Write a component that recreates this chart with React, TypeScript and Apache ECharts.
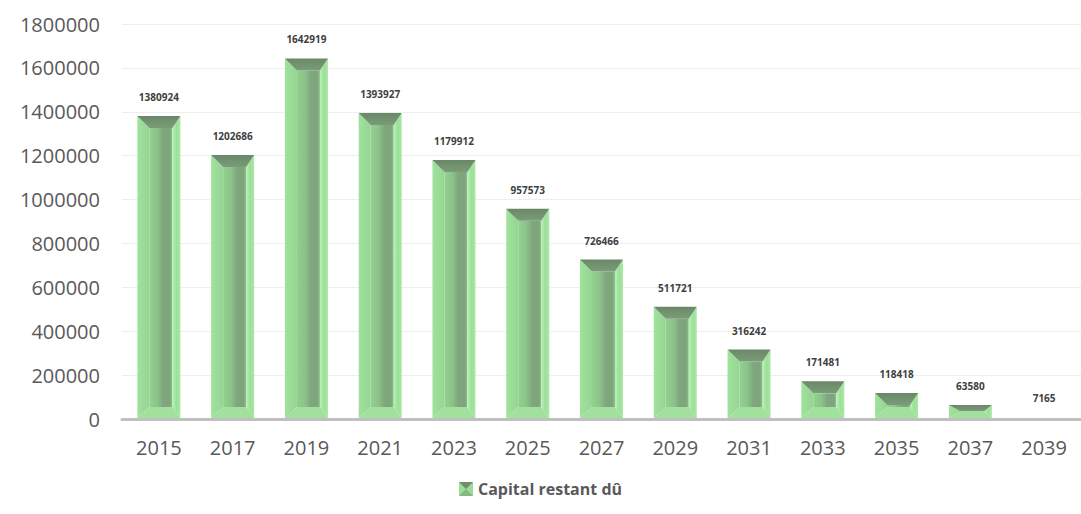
import React, { useEffect, useRef } from "react";
import * as echarts from "echarts";

const years = ["2015", "2017", "2019", "2021", "2023", "2025", "2027", "2029", "2031", "2033", "2035", "2037", "2039"];
const capital = [1380924, 1202686, 1642919, 1393927, 1179912, 957573, 726466, 511721, 316242, 171481, 118418, 63580, 7165];
const seriesName = "Capital restant dû";

const iconSvg =
  '<svg xmlns="http://www.w3.org/2000/svg" width="14" height="14" viewBox="0 0 14 14">' +
  '<rect x="0" y="0" width="14" height="14" fill="#9bdc98"/>' +
  '<polygon points="0,0 14,0 7,7" fill="#6e8e6c"/>' +
  '<polygon points="0,14 14,14 7,7" fill="#86b684"/>' +
  "</svg>";
const legendIcon = "image://data:image/svg+xml;charset=utf-8," + encodeURIComponent(iconSvg);

export default function App() {
  const ref = useRef<HTMLDivElement>(null);
  useEffect(() => {
    document.body.style.margin = "0";
    const chart = echarts.init(ref.current!, undefined, { renderer: "svg" });
    const data = capital.map((v, i) => [i, v]);
    chart.setOption({
      animation: false,
      backgroundColor: "#ffffff",
      grid: { left: 122, top: 24, width: 972, height: 395 },
      legend: {
        show: true,
        bottom: 12,
        left: "center",
        icon: legendIcon,
        itemWidth: 14,
        itemHeight: 14,
        itemGap: 6,
        textStyle: { fontFamily: "Open Sans", fontSize: 16, fontWeight: "bold", color: "#595959" },
        data: [seriesName],
      },
      xAxis: {
        type: "category",
        data: years,
        axisLine: { lineStyle: { color: "#c0c0c0", width: 3 } },
        axisTick: { show: false },
        axisLabel: { fontFamily: "Open Sans", fontSize: 20, color: "#595959", margin: 18, interval: 0 },
      },
      yAxis: {
        type: "value",
        min: 0,
        max: 1800000,
        interval: 200000,
        axisLine: { show: false },
        axisTick: { show: false },
        splitLine: { lineStyle: { color: "#eeeeee", width: 1 } },
        axisLabel: {
          fontFamily: "Open Sans",
          fontSize: 20,
          color: "#595959",
          margin: 22,
          formatter: (v: number) => String(v),
        },
      },
      series: [
        {
          type: "custom",
          name: seriesName,
          itemStyle: { color: "#95d792" },
          data,
          renderItem: (params: any, api: any) => {
            const idx = api.value(0);
            const v = api.value(1);
            const top = api.coord([idx, v]);
            const base = api.coord([idx, 0]);
            const w = 43;
            const cx = top[0];
            const x0 = cx - w / 2;
            const x1 = cx + w / 2;
            const y0 = top[1];
            const y1 = base[1] - 1;
            const h = Math.max(0, y1 - y0);
            const bt = Math.min(12, h / 2);
            const bb = Math.min(11, h / 2);
            const il = 12;
            const ir = 8;
            const children: any[] = [];
            if (h > 2) {
              children.push(
                {
                  type: "rect",
                  shape: { x: x0 + il, y: y0 + bt, width: w - il - ir, height: h - bt - bb },
                  style: {
                    fill: new echarts.graphic.LinearGradient(0, 0, 1, 0, [
                      { offset: 0, color: "#93d190" },
                      { offset: 0.35, color: "#8bc388" },
                      { offset: 0.6, color: "#80a67e" },
                      { offset: 0.88, color: "#7ea47c" },
                      { offset: 1, color: "#8cbf89" },
                    ]),
                  },
                },
                {
                  type: "polygon",
                  shape: { points: [[x0, y0], [x0 + il, y0 + bt], [x0 + il, y1 - bb], [x0, y1]] },
                  style: {
                    fill: new echarts.graphic.LinearGradient(0, 0, 1, 0, [
                      { offset: 0, color: "#a0e39d" },
                      { offset: 1, color: "#95d592" },
                    ]),
                  },
                },
                {
                  type: "polygon",
                  shape: { points: [[x1, y0], [x1 - ir, y0 + bt], [x1 - ir, y1 - bb], [x1, y1]] },
                  style: {
                    fill: new echarts.graphic.LinearGradient(0, 0, 1, 0, [
                      { offset: 0, color: "#b6f4b2" },
                      { offset: 0.5, color: "#9ddf9a" },
                      { offset: 1, color: "#a8e9a4" },
                    ]),
                  },
                },
                {
                  type: "polygon",
                  shape: { points: [[x0, y0], [x1, y0], [x1 - ir, y0 + bt], [x0 + il, y0 + bt]] },
                  style: {
                    fill: new echarts.graphic.LinearGradient(0, 0, 0, 1, [
                      { offset: 0, color: "#6a8868" },
                      { offset: 1, color: "#7a9c78" },
                    ]),
                  },
                },
                {
                  type: "polygon",
                  shape: { points: [[x0, y1], [x1, y1], [x1 - ir, y1 - bb], [x0 + il, y1 - bb]] },
                  style: { fill: "#a2e09e" },
                }
              );
            }
            children.push({
              type: "text",
              style: {
                text: String(v),
                x: cx,
                y: y0 - 19,
                align: "center",
                verticalAlign: "middle",
                fontFamily: "Open Sans",
                fontSize: 10,
                fontWeight: "bold",
                fill: "#404040",
              },
            });
            return { type: "group", children };
          },
        },
      ],
    });
    return () => chart.dispose();
  }, []);
  return <div ref={ref} style={{ width: 1081, height: 514 }} />;
}
